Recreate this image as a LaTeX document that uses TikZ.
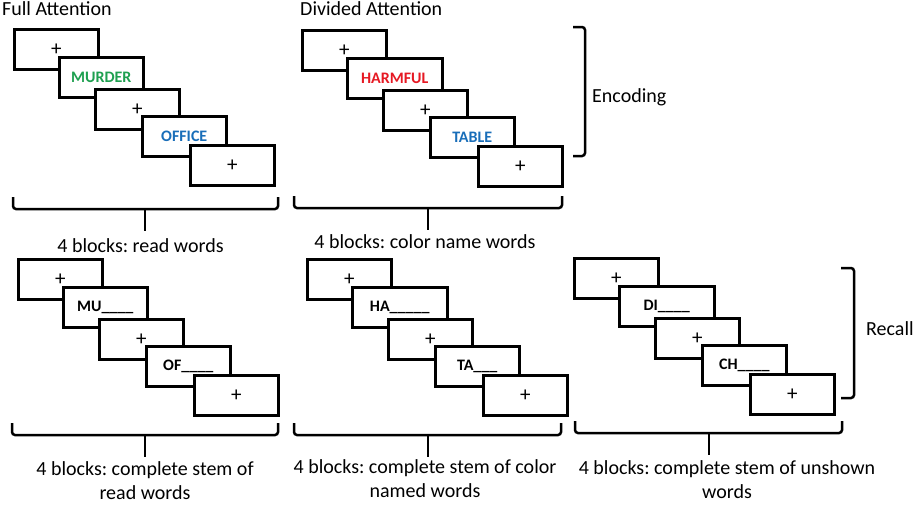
\documentclass[tikz,border=0pt]{standalone}
\usepackage{fontspec}
\setmainfont{Carlito}
\usetikzlibrary{calc}
\definecolor{murdergreen}{RGB}{30,160,80}
\definecolor{officeblue}{RGB}{25,110,185}
\definecolor{harmred}{RGB}{230,25,35}
\frenchspacing

\begin{document}
\begin{tikzpicture}[x=1pt, y=-1pt,
            screen/.style={draw, line width=2.5pt, fill=white, anchor=north west, inner sep=0pt, minimum width=84pt, minimum height=40pt},
            fixcross/.style={font=\fontsize{21}{23}\selectfont},
            cue/.style={font=\fontsize{16}{19}\selectfont\bfseries},
            caption/.style={font=\fontsize{20}{24}\selectfont, align=center, inner sep=0pt},
            bracket/.style={line width=2.5pt, rounded corners=3pt}]
            \useasboundingbox (0,0) rectangle (918,504);
            \pgfmathsetmacro{\rise}{12}
            \pgfmathsetmacro{\tick}{22}
            \foreach \g/\gx/\gy/\wb/\cb/\tb/\cd/\td in {
                fa/13/28/84/murdergreen/MURDER/officeblue/OFFICE,
                da/301/29/95/harmred/HARMFUL/officeblue/TABLE,
                ra/17/258/84/black/MU\_\_\_\_/black/OF\_\_\_\_,
                rb/306/258/95/black/HA\_\_\_\_\_/black/TA\_\_\_,
                rc/573/257/95/black/DI\_\_\_\_/black/CH\_\_\_\_} {
                \node[screen, fixcross] (\g1) at (\gx,\gy) {+};
                \node[screen, cue, text=\cb, minimum width=\wb] (\g2) at (\gx+45,\gy+28) {\tb};
                \node[screen, fixcross] (\g3) at (\gx+81,\gy+60) {+};
                \node[screen, cue, text=\cd] (\g4) at (\gx+128,\gy+87) {\td};
                \node[screen, fixcross] (\g5) at (\gx+176,\gy+116) {+};
            }
            \foreach \l/\r/\m/\yb in {13/278/145/209, 294/562/428/208, 12/278/145/435, 294/561/428/435, 575/842/709/433} {
                \draw[bracket] (\l,\yb-\rise) -- (\l,\yb) -- (\r,\yb) -- (\r,\yb-\rise);
                \draw[bracket] (\m,\yb) -- (\m,\yb+\tick);
            }
            \draw[bracket] (573,27) -- (585,27) -- (585,156) -- (573,156);
            \draw[bracket] (841,268) -- (854,268) -- (854,398) -- (841,398);
            \node[caption, anchor=base west] (fulltitle) at (2,15) {Full Attention};
            \node[caption, anchor=base west] (dividedtitle) at (300,15) {Divided Attention};
            \node[caption, anchor=base west] (encoding) at (592,102) {Encoding};
            \node[caption, anchor=base west] (recall) at (866,335) {Recall};
            \node[caption, anchor=base] (readlbl) at (140.5,252) {4 blocks: read words};
            \node[caption, anchor=base] (colorlbl) at (425,248) {4 blocks: color name words};
            \node[caption, anchor=base] (stemread) at (145,499) {4 blocks: complete stem of\\read words};
            \node[caption, anchor=base] (stemcolor) at (425,497) {4 blocks: complete stem of color\\named words};
            \node[caption, anchor=base] (stemunshown) at (727,498) {4 blocks: complete stem of unshown\\words};
        \end{tikzpicture}
\end{document}
